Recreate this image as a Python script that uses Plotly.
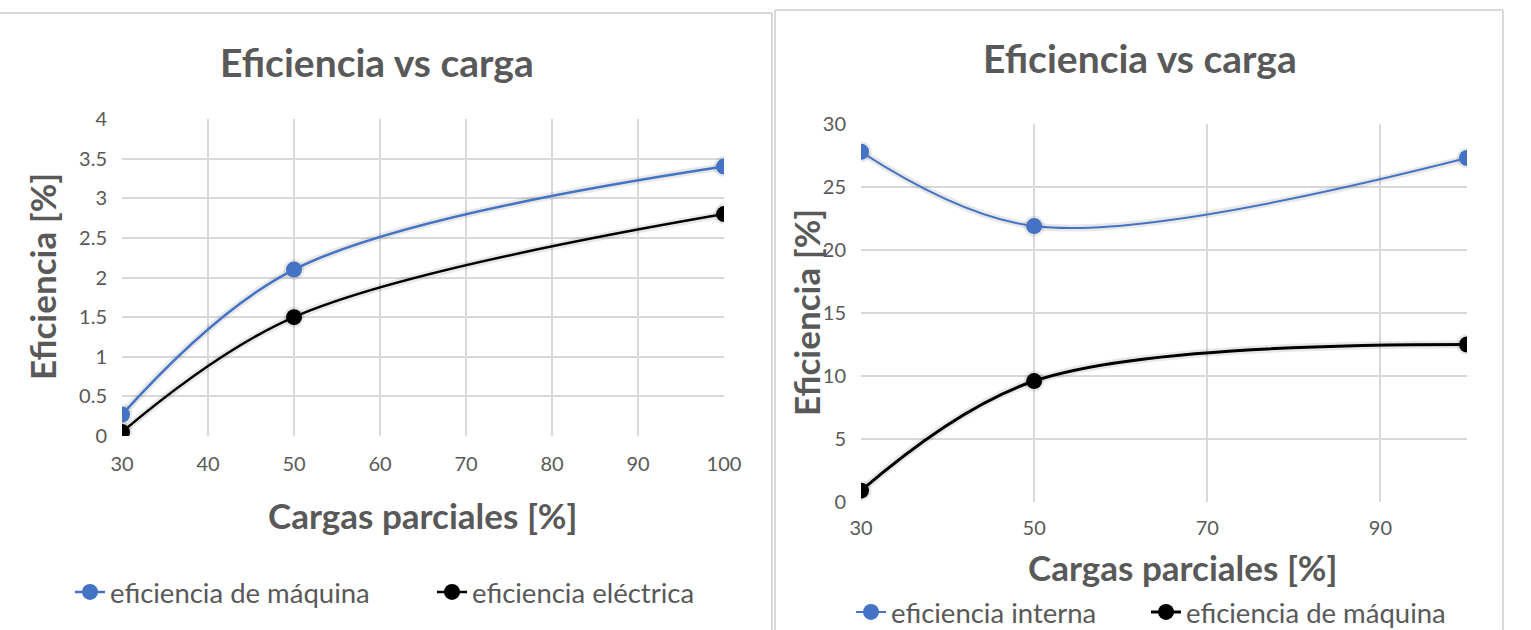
import plotly.graph_objects as go

cargas = [30, 50, 100]

# grafica izquierda
ef_maquina_izq = [0.27, 2.1, 3.4]
ef_electrica = [0.05, 1.5, 2.8]

# grafica derecha
ef_interna = [27.8, 21.9, 27.3]
ef_maquina_der = [0.9, 9.6, 12.5]

W, H = 1531, 630
AZUL = '#4472C4'
NEGRO = '#000000'
GRIS = '#595959'
REJILLA = '#d9d9d9'
SOMBRA = 'rgba(0,0,0,0.09)'
FUENTE = 'Lato'


def px(x):
    return x / W


def py(y):
    return 1 - y / H


fig = go.Figure()


def serie(y, nombre, color, ancho, ejes, leyenda):
    xa, ya = ejes
    # sombra suave bajo la linea
    fig.add_trace(go.Scatter(x=cargas, y=y, mode='lines+markers', showlegend=False, hoverinfo='skip',
                             line=dict(color=SOMBRA, width=ancho + 5, shape='spline', smoothing=1),
                             marker=dict(size=21, color=SOMBRA), xaxis=xa, yaxis=ya))
    fig.add_trace(go.Scatter(x=cargas, y=y, name=nombre, mode='lines+markers',
                             line=dict(color=color, width=ancho, shape='spline', smoothing=1),
                             marker=dict(size=16, color=color), xaxis=xa, yaxis=ya, legend=leyenda))


serie(ef_maquina_izq, 'eficiencia de máquina', AZUL, 2.5, ('x', 'y'), 'legend')
serie(ef_electrica, 'eficiencia eléctrica', NEGRO, 2.5, ('x', 'y'), 'legend2')
serie(ef_interna, 'eficiencia interna', AZUL, 2, ('x2', 'y2'), 'legend3')
serie(ef_maquina_der, 'eficiencia de máquina', NEGRO, 3, ('x2', 'y2'), 'legend4')

eje = dict(showgrid=True, gridcolor=REJILLA, gridwidth=1.5, zeroline=False, showline=False,
           ticks='', tickfont=dict(family=FUENTE, size=20, color=GRIS), fixedrange=True)


def leyenda(x, y):
    return dict(orientation='h', x=px(x), y=py(y), xanchor='left', yanchor='middle',
                bgcolor='rgba(0,0,0,0)', font=dict(family=FUENTE, size=27.5, color=GRIS))


fig.update_layout(
    width=W, height=H,
    margin=dict(l=0, r=0, t=0, b=0, autoexpand=False),
    paper_bgcolor='white', plot_bgcolor='white',
    xaxis=dict(eje, domain=[px(122), px(724)], range=[30, 100], dtick=10, tick0=30,
               anchor='y', ticklabelstandoff=14),
    yaxis=dict(eje, domain=[py(436), py(119)], range=[0, 4], dtick=0.5,
               anchor='x', ticklabelstandoff=14),
    xaxis2=dict(eje, domain=[px(861), px(1467)], range=[30, 100], dtick=20, tick0=30,
                anchor='y2', ticklabelstandoff=12),
    yaxis2=dict(eje, domain=[py(502), py(124)], range=[0, 30], dtick=5,
                anchor='x2', ticklabelstandoff=14),
    legend=leyenda(70, 592),
    legend2=leyenda(432, 592),
    legend3=leyenda(851, 612),
    legend4=leyenda(1146, 612),
)

titulo = dict(family=FUENTE, size=39, color=GRIS, weight='bold')
eje_titulo = dict(family=FUENTE, size=35, color=GRIS, weight='bold')
anotaciones = [
    (377, 62, 'Eficiencia vs carga', titulo, 0),
    (1140, 58, 'Eficiencia vs carga', titulo, 0),
    (423, 515, 'Cargas parciales [%]', eje_titulo, 0),
    (1183, 567, 'Cargas parciales [%]', eje_titulo, 0),
    (42, 277, 'Eficiencia [%]', eje_titulo, -90),
    (806, 313, 'Eficiencia [%]', eje_titulo, -90),
]
for x, y, texto, f, rot in anotaciones:
    fig.add_annotation(x=px(x), y=py(y), xref='paper', yref='paper', text=texto,
                       showarrow=False, font=f, textangle=rot, xanchor='center', yanchor='middle')

# marcos de las dos graficas
borde = dict(color='#d9d9d9', width=2)
fig.add_shape(type='line', xref='paper', yref='paper', x0=0, x1=px(772), y0=py(13), y1=py(13), line=borde)
fig.add_shape(type='line', xref='paper', yref='paper', x0=px(772), x1=px(772), y0=py(13), y1=0, line=borde)
fig.add_shape(type='line', xref='paper', yref='paper', x0=px(775), x1=px(1503), y0=py(10), y1=py(10), line=borde)
fig.add_shape(type='line', xref='paper', yref='paper', x0=px(775), x1=px(775), y0=py(10), y1=0, line=borde)
fig.add_shape(type='line', xref='paper', yref='paper', x0=px(1503), x1=px(1503), y0=py(10), y1=0, line=borde)

# sin margen del body para que la figura ocupe la ventana
fig.write_html('out.html', config={'displayModeBar': False},
               post_script="document.body.style.margin='0';")
